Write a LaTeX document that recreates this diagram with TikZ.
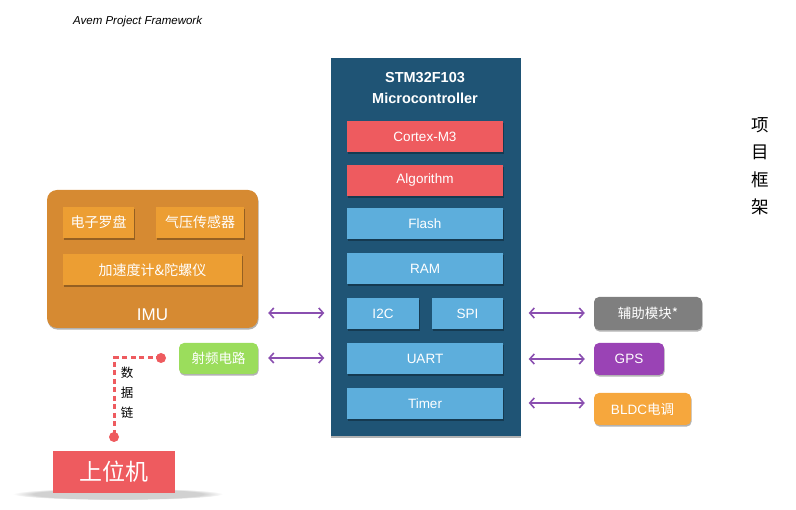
\documentclass[tikz,border=0pt]{standalone}
\usepackage{fontspec}
\setmainfont{Liberation Sans}
\newfontfamily\cjk{Noto Sans CJK SC}
\usetikzlibrary{arrows.meta,shadows,fadings}
\definecolor{mcublue}{HTML}{1F5475}
\definecolor{boxred}{HTML}{EE5B5F}
\definecolor{boxblue}{HTML}{5DAEDC}
\definecolor{imuorange}{HTML}{D68A32}
\definecolor{suborange}{HTML}{EC9E33}
\definecolor{arrowpurple}{HTML}{8A4FB0}
\definecolor{modgray}{HTML}{7F7F7F}
\definecolor{gpspurple}{HTML}{9A43B5}
\definecolor{bldcorange}{HTML}{F6A73D}
\definecolor{rfgreen}{HTML}{9BDD5C}
\tikzset{
  shd/.style={drop shadow={shadow xshift=0.6pt, shadow yshift=-1.6pt, opacity=0.3, fill=black}},
  blk/.style={inner sep=0pt, text=white, font=\fontsize{13.5}{16}\selectfont, shd},
  redbox/.style={blk, fill=boxred, minimum width=156pt, minimum height=31pt},
  bluebox/.style={blk, fill=boxblue, minimum height=31pt},
  subbox/.style={blk, fill=suborange, minimum height=31pt, font=\cjk\fontsize{14}{16}\selectfont},
  rbox/.style={blk, rounded corners=5pt, minimum height=32pt},
  dbl/.style={draw=arrowpurple, line width=1.6pt, {Straight Barb[length=4.5pt,width=10pt]}-{Straight Barb[length=4.5pt,width=10pt]}},
  link/.style={draw=boxred, line width=3pt, dash pattern=on 5pt off 3.5pt},
}
\begin{document}
\begin{tikzpicture}[x=1pt,y=-1pt]
\useasboundingbox (0,0) rectangle (796,510);
% title
\node[anchor=west, inner sep=0pt, font=\itshape\fontsize{11.5}{13}\selectfont] (title) at (73,22) {Avem Project Framework};
% MCU
\node[fill=mcublue, minimum width=190pt, minimum height=378pt, inner sep=0pt, shd] (mcu) at (425.5,247) {};
\node[text=white, align=center, font=\bfseries\fontsize{14.5}{21}\selectfont, inner sep=0pt] (mcutitle) at (425,88.5) {STM32F103\\Microcontroller};
\node[redbox] (cortex) at (425,136.5) {Cortex-M3};
\node[redbox] (algo) at (425,180.5) {Algorithm};
\node[bluebox, minimum width=156pt] (flash) at (425,223.5) {Flash};
\node[bluebox, minimum width=156pt] (ram) at (425,268.5) {RAM};
\node[bluebox, minimum width=72pt] (i2c) at (383,313.5) {I2C};
\node[bluebox, minimum width=71pt] (spi) at (467.5,313.5) {SPI};
\node[bluebox, minimum width=156pt] (uart) at (425,358.5) {UART};
\node[bluebox, minimum width=156pt] (timer) at (425,403.5) {Timer};
% IMU
\node[fill=imuorange, rounded corners=10pt, minimum width=211pt, minimum height=138pt, inner sep=0pt, shd] (imu) at (152.5,259) {};
\node[text=white, font=\fontsize{17}{20}\selectfont, inner sep=0pt] (imulabel) at (152.5,315) {IMU};
\node[subbox, minimum width=71pt] (compass) at (98.5,222.5) {电子罗盘};
\node[subbox, minimum width=88pt] (baro) at (200,222.5) {气压传感器};
\node[subbox, minimum width=179pt] (accel) at (152.5,270) {加速度计\&陀螺仪};
% RF
\node[rbox, fill=rfgreen, minimum width=79pt, minimum height=31pt, font=\cjk\fontsize{13.5}{15}\selectfont] (rf) at (218.5,358.5) {射频电路};
% right modules
\node[rbox, fill=modgray, minimum width=108pt, minimum height=33pt, font=\cjk\fontsize{13.5}{15}\selectfont] (aux) at (648,313.5) {辅助模块*};
\node[rbox, fill=gpspurple, minimum width=70pt, font=\fontsize{13.5}{15}\selectfont] (gps) at (629,359) {GPS};
\node[rbox, fill=bldcorange, minimum width=97pt, font=\fontsize{13.5}{15}\selectfont] (bldc) at (642.5,409) {BLDC{\cjk 电调}};
% arrows
\draw[dbl] ([xshift=10pt,yshift=0.5pt]imu.east |- i2c.west) -- ([xshift=-6pt,yshift=0.5pt]mcu.west |- i2c.west);
\draw[dbl] ([xshift=10pt,yshift=0.5pt]rf.east) -- ([xshift=-6pt,yshift=0.5pt]mcu.west |- rf.east);
\draw[dbl] ([xshift=8pt,yshift=0.5pt]mcu.east |- aux.west) -- ([xshift=-9pt,yshift=0.5pt]aux.west);
\draw[dbl] ([xshift=8pt]mcu.east |- gps.west) -- ([xshift=-9pt]gps.west);
\draw[dbl] ([xshift=8pt,yshift=6pt]mcu.east |- bldc.west) -- ([xshift=-9pt,yshift=6pt]bldc.west);
% host
\fill[black, opacity=0.18, path fading=circle with fuzzy edge 20 percent] (118,494) ellipse (105pt and 6pt);
\node[fill=boxred, text=white, minimum width=122pt, minimum height=42pt, inner sep=0pt, font=\cjk\fontsize{23}{26}\selectfont] (host) at (114,472) {上位机};
% data link
\coordinate (d1) at (161,358);
\coordinate (d2) at (114,437);
\draw[link] (d1) -- (d2 |- d1) -- (d2);
\fill[boxred] (d1) circle (5pt);
\fill[boxred] (d2) circle (5pt);
\node[align=center, inner sep=0pt, font=\cjk\fontsize{12.5}{20}\selectfont] (linklabel) at (127,393) {数\\据\\链};
% side label
\node[align=center, inner sep=0pt, font=\cjk\fontsize{17.5}{27.5}\selectfont] (side) at (760,166) {项\\目\\框\\架};
\end{tikzpicture}
\end{document}
